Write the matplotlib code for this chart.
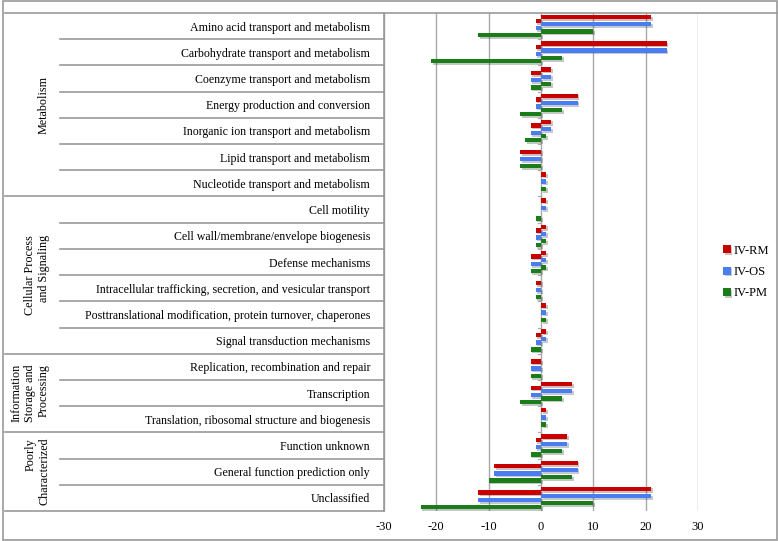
import matplotlib
matplotlib.use("Agg")
import matplotlib.pyplot as plt
import matplotlib.patheffects as pe
from matplotlib.lines import Line2D
from matplotlib.patches import Rectangle
from matplotlib.transforms import blended_transform_factory

plt.rcParams["font.family"] = ["Liberation Serif", "DejaVu Serif"]
plt.rcParams["axes.unicode_minus"] = False

categories = [
    "Amino acid transport and metabolism",
    "Carbohydrate transport and metabolism",
    "Coenzyme transport and metabolism",
    "Energy production and conversion",
    "Inorganic ion transport and metabolism",
    "Lipid transport and metabolism",
    "Nucleotide transport and metabolism",
    "Cell motility",
    "Cell wall/membrane/envelope biogenesis",
    "Defense mechanisms",
    "Intracellular trafficking, secretion, and vesicular transport",
    "Posttranslational modification, protein turnover, chaperones",
    "Signal transduction mechanisms",
    "Replication, recombination and repair",
    "Transcription",
    "Translation, ribosomal structure and biogenesis",
    "Function unknown",
    "General function prediction only",
    "Unclassified",
]
groups = ["Metabolism", "Cellular Process\nand Signaling",
          "Information\nStorage and\nProcessing", "Poorly\nCharacterized"]
group_sizes = [7, 6, 3, 3]

# up (positive) and down (negative) counts per series
rm_up = [21, 24, 2, 7, 2, 0, 1, 1, 1, 1, 0, 1, 1, 0, 6, 1, 5, 7, 21]
rm_down = [-1, -1, -2, -1, -2, -4, 0, 0, -1, -2, -1, 0, -1, -2, -2, 0, -1, -9, -12]
os_up = [21, 24, 2, 7, 2, 0, 1, 1, 1, 1, 0, 1, 1, 0, 6, 1, 5, 7, 21]
os_down = [-1, -1, -2, -1, -2, -4, 0, 0, -1, -2, -1, 0, -1, -2, -2, 0, -1, -9, -12]
pm_up = [10, 4, 2, 4, 1, 0, 1, 0, 1, 1, 0, 1, 0, 0, 4, 1, 4, 6, 10]
pm_down = [-12, -21, -2, -4, -3, -4, 0, -1, -1, -2, -1, 0, -2, -2, -4, 0, -2, -10, -23]

series = ["IV-RM", "IV-OS", "IV-PM"]
colors = ["#c80000", "#4a7ef0", "#1a7d1a"]

fig = plt.figure(figsize=(7.78, 5.41), dpi=100)
ax = fig.add_axes([384 / 778, 30 / 541, 314 / 778, 498 / 541])

y = list(range(len(categories)))
h = 0.165
step = 0.137
shadow = [pe.SimplePatchShadow(offset=(1.2, -1.2), alpha=0.25), pe.Normal()]
data = [(rm_up, rm_down), (os_up, os_down), (pm_up, pm_down)]
for k, (up, down) in enumerate(data):
    off_up = (2 * k - 2.5) * step
    off_dn = (2 * k - 1.5) * step
    b1 = ax.barh([v + off_up for v in y], up, height=h, color=colors[k], label=series[k])
    b2 = ax.barh([v + off_dn for v in y], down, height=h, color=colors[k])
    for b in list(b1) + list(b2):
        b.set_path_effects(shadow)

ax.set_xlim(-30, 30)
ax.set_ylim(len(categories) - 0.5, -0.5)
ax.set_xticks(range(-30, 31, 10))
ax.tick_params(axis="x", length=0, labelsize=9, pad=7)
ax.set_yticks(y)
ax.set_yticklabels(categories, fontsize=8.6)
ax.tick_params(axis="y", length=0, pad=10)
ax.grid(axis="x", color="#a8a8a8", lw=1)
ax.set_axisbelow(True)
for s in ["top", "bottom", "right"]:
    ax.spines[s].set_visible(False)
ax.spines["left"].set_color("#999999")
ax.spines["left"].set_linewidth(1.2)

# small tick marks on the zero line between categories
for b in range(1, len(categories)):
    ax.plot([-0.6, 0], [b - 0.5, b - 0.5], color="#aaaaaa", lw=0.8)

# table lines on the left
tr = blended_transform_factory(fig.transFigure, ax.transData)
bounds = [0]
for n in group_sizes:
    bounds.append(bounds[-1] + n)
for i in range(1, len(categories) + 1):
    x0 = 5 / 778 if i in bounds else 60 / 778
    fig.add_artist(Line2D([x0, 384 / 778], [i - 0.5, i - 0.5], transform=tr,
                          color="#999999", lw=1.2))
fig.add_artist(Line2D([5 / 778, 1], [-0.5, -0.5], transform=tr, color="#999999", lw=1.2))

for g, name in enumerate(groups):
    mid = (bounds[g] + bounds[g + 1]) / 2 - 0.5
    fig.text(50 / 778, mid, name, transform=tr, rotation=90, ha="right",
             va="center", fontsize=8.7, linespacing=1.2)

fig.add_artist(Rectangle((3 / 778, 1 / 541), 774 / 778, 539 / 541, transform=fig.transFigure,
                         fill=False, edgecolor="#999999", lw=1.2))

leg = ax.legend(loc="center left", bbox_to_anchor=(712 / 778, 269 / 541),
                bbox_transform=fig.transFigure, frameon=False, fontsize=9,
                handlelength=0.6, handleheight=0.6, handletextpad=0.2,
                labelspacing=0.75)

fig.savefig("out.png", dpi=100)
